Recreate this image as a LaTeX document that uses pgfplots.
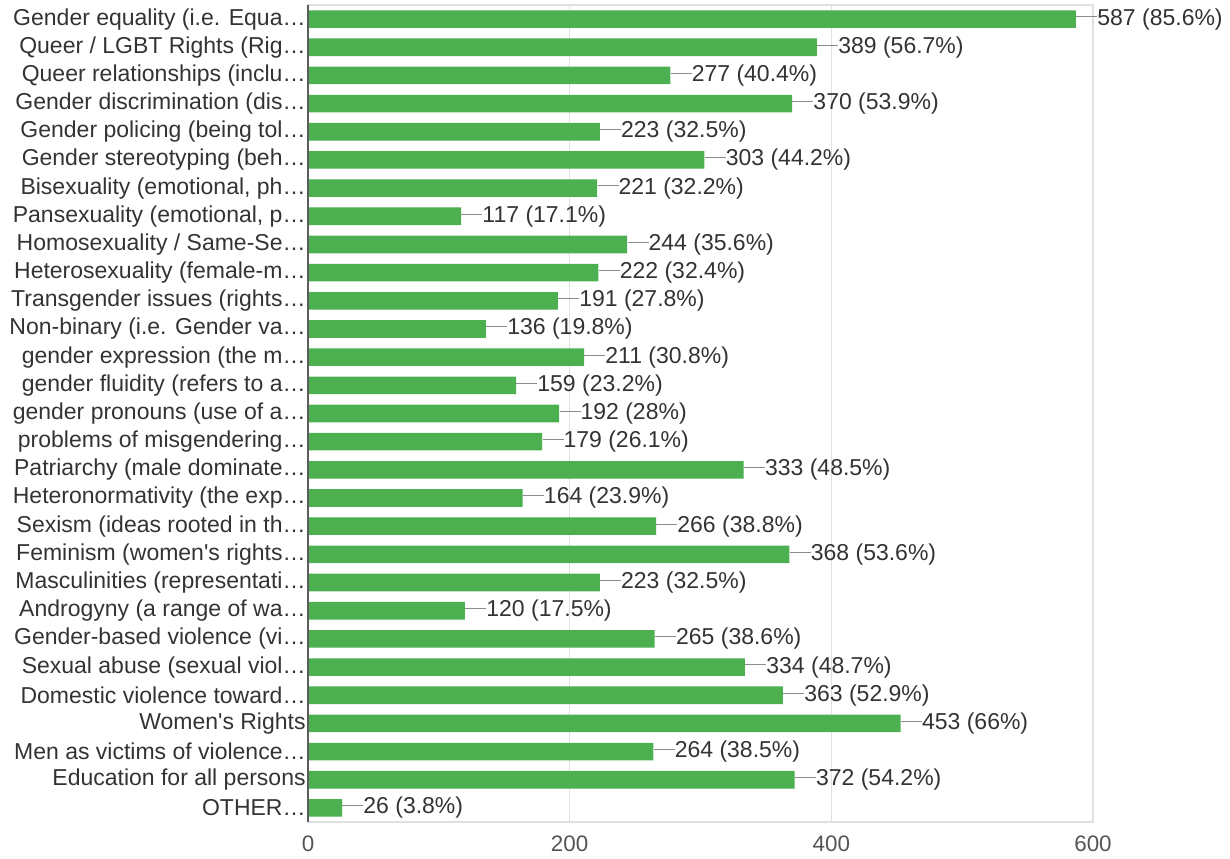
\documentclass[border=0pt]{standalone}
\usepackage{pgfplots}
\pgfplotsset{compat=1.18}
\usepackage{pgfplotstable}
\usepackage{fontspec}
\setmainfont{Liberation Sans}

\definecolor{bargreen}{RGB}{76,175,80}
\definecolor{labelgray}{RGB}{51,51,51}
\definecolor{tickgray}{RGB}{85,85,85}
\definecolor{gridgray}{RGB}{224,224,224}
\definecolor{leadergray}{RGB}{140,140,140}

% responses per topic: position, count, share of respondents (%)
\pgfplotstableread{
pos count pct
0  587 85.6
1  389 56.7
2  277 40.4
3  370 53.9
4  223 32.5
5  303 44.2
6  221 32.2
7  117 17.1
8  244 35.6
9  222 32.4
10 191 27.8
11 136 19.8
12 211 30.8
13 159 23.2
14 192 28
15 179 26.1
16 333 48.5
17 164 23.9
18 266 38.8
19 368 53.6
20 223 32.5
21 120 17.5
22 265 38.6
23 334 48.7
24 363 52.9
25 453 66
26 264 38.5
27 372 54.2
28 26  3.8
}\topics

\begin{document}
\begin{tikzpicture}
\begin{axis}[
  scale only axis,
  width=392.5pt, height=408.5pt,
  xbar, bar width=8.8pt,
  xmin=0, xmax=600,
  ymin=-0.5, ymax=28.5,
  y dir=reverse,
  /pgf/number format/assume math mode=true,
  axis line style={gridgray, line width=0.8pt},
  xtick={0,200,400,600},
  xmajorgrids, grid style={gridgray, line width=0.8pt},
  ytick={0,...,28},
  yticklabels={
    {Gender equality (i.e. Equa…},
    {Queer / LGBT Rights (Rig…},
    {Queer relationships (inclu…},
    {Gender discrimination (dis…},
    {Gender policing (being tol…},
    {Gender stereotyping (beh…},
    {Bisexuality (emotional, ph…},
    {Pansexuality (emotional, p…},
    {Homosexuality / Same-Se…},
    {Heterosexuality (female-m…},
    {Transgender issues (rights…},
    {Non-binary (i.e. Gender va…},
    {gender expression (the m…},
    {gender fluidity (refers to a…},
    {gender pronouns (use of a…},
    {problems of misgendering…},
    {Patriarchy (male dominate…},
    {Heteronormativity (the exp…},
    {Sexism (ideas rooted in th…},
    {Feminism (women\textquotesingle s rights…},
    {Masculinities (representati…},
    {Androgyny (a range of wa…},
    {Gender-based violence (vi…},
    {Sexual abuse (sexual viol…},
    {Domestic violence toward…},
    {Women\textquotesingle s Rights},
    {Men as victims of violence…},
    {Education for all persons},
    {OTHER…}},
  major tick length=0pt,
  tick style={draw=none},
  yticklabel style={font=\fontsize{11.5}{13}\selectfont, text=labelgray, inner xsep=1pt},
  xticklabel style={font=\fontsize{11.2}{13}\selectfont, text=tickgray, yshift=-3.5pt},
  point meta=x,
  visualization depends on={\thisrow{pct} \as \pct},
  nodes near coords={\textcolor{leadergray}{\rule[0.33em]{10.5pt}{0.5pt}}\pgfmathprintnumber{\pgfplotspointmeta} (\pgfmathprintnumber[fixed,precision=1]{\pct}\%)},
  every node near coord/.append style={anchor=west, inner xsep=0pt,
    font=\fontsize{11.5}{13}\selectfont, text=labelgray},
  clip=false,
]
\addplot[fill=bargreen, draw=none] table[x=count, y=pos] {\topics};
\draw[labelgray!80, line width=0.8pt] (axis cs:0,-0.5) -- (axis cs:0,28.5);
\coordinate (sw) at (rel axis cs:0,0);
\coordinate (nw) at (rel axis cs:0,1);
\end{axis}
\pgfresetboundingbox
\useasboundingbox ([xshift=-154pt,yshift=-18.5pt]sw) rectangle ([xshift=461pt,yshift=2.5pt]nw);
\end{tikzpicture}
\end{document}
